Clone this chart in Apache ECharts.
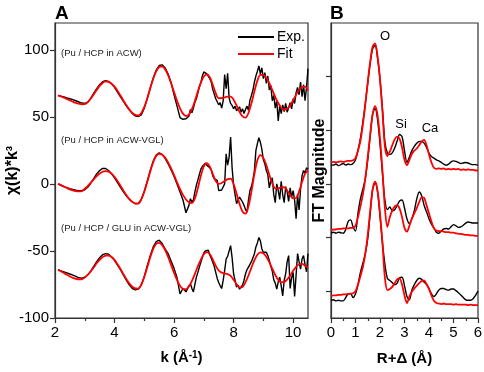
<!DOCTYPE html>
<html>
<head>
<meta charset="utf-8">
<script src="https://cdn.jsdelivr.net/npm/echarts@6/dist/echarts.min.js"></script>
<style>
  html, body { margin: 0; padding: 0; background: #fff; }
  #chart { width: 484px; height: 372px; }
</style>
</head>
<body>
<div id="chart"></div>
<script>
// sampling grids (k in 1/A, R in A)
var fitK = [];
for (var i = 21; i <= 105; i++) fitK.push(i / 10);
var expK = [];
for (var i = 21; i <= 65; i++) expK.push(i / 10);
for (var j = 131; j <= 210; j++) expK.push(j / 20);
var rB = [];
for (var i = 0; i <= 60; i++) rB.push(i / 10);

// panel A: chi(k)*k^3
var expACW = [66, 65.4, 64.8, 64.1, 63.5, 62.8, 62.0, 61.1, 60.3,
  60.0, 61.0, 63.8, 67.5, 71.0, 74.0, 76.2, 77.0, 76.5, 74.6,
  72.0, 68.5, 64.9, 61.5, 58.0, 55.0, 52.4, 50.6, 50.3, 51.5,
  56.5, 63.5, 71.5, 79.0, 84.8, 88.3, 88.8, 86.5, 82.0, 75.5,
  66.5, 58.0, 49.5, 48.2, 48.6, 50.5,
  55.5, 53.0, 56.5, 61.0, 63.5, 68.0, 72.5, 75.5, 80.5,
  83.5, 84.5, 82.0, 83.0, 78.5, 76.0, 70.5, 67.0, 63.5, 64.5, 59.0, 60.5, 56.5, 62.0, 81.5, 71.0, 82.5, 64.0, 60.0, 58.5,
  56.0, 58.0, 54.5, 55.5, 57.5, 53.5, 56.0, 52.5, 55.5, 58.0, 55.0, 62.5, 66.0, 70.0, 76.0, 80.5, 84.0, 88.0, 82.0, 86.5,
  78.5, 83.0, 75.0, 80.5, 70.0, 73.5, 62.0, 66.0, 56.5, 62.0, 47.0, 58.5, 52.5, 59.0, 54.0, 60.0, 53.5, 57.0, 60.5, 56.0,
  63.5, 60.0, 68.0, 72.0, 66.5, 76.0, 65.0, 74.0, 62.0, 72.0, 86.0];
var fitACW = [66, 65.2, 64.3, 63.3, 62.3, 61.3, 60.4, 59.8, 59.4,
  59.5, 61.0, 63.5, 66.7, 70.0, 73.1, 75.3, 76.4, 76.1, 74.8,
  72.5, 69.5, 65.9, 62.2, 58.6, 55.4, 52.9, 51.5, 51.0, 52.8,
  57.4, 63.9, 71.3, 78.4, 83.9, 87.2, 87.6, 85.4, 81.1, 75.2,
  68.5, 61.9, 56.4, 52.4, 50.6, 51.7, 55.7, 61.9, 69.0, 75.5,
  80.1, 81.7, 79.5, 73.9, 67.7, 63.9, 64.0, 64.6, 65.1, 65.1,
  62.8, 58.5, 53.8, 50.3, 49.4, 52.9, 60.2, 69.1, 77.0, 81.3,
  81.3, 79.1, 75.1, 70.1, 64.8, 60.3, 56.9, 55.3, 56.0, 58.5,
  62.3, 66.5, 70.2, 72.3, 72.6, 69.7];

var expVGL = [0, -1.0, -2.0, -2.8, -3.5, -4.1, -4.6, -5.0, -5.0,
  -4.4, -2.5, 0.5, 4.0, 7.5, 10.0, 11.6, 11.5, 10.0, 7.5,
  4.5, 1.0, -2.5, -6.0, -9.0, -11.5, -13.5, -14.8, -14.5, -11.5,
  -5.5, 2.0, 10.0, 17.0, 21.5, 23.2, 22.0, 19.0, 15.0, 10.5,
  5.5, 0.0, -6.0, -12.0, -21.5, -16.0,
  -11.0, -13.5, -12.0, -6.0, -1.0, 3.0, 7.0, 11.0, 13.0,
  14.0, 15.5, 14.0, 15.0, 12.0, 10.5, 6.0, 4.0, 3.0, 2.6, -5.0, -6.0, -4.5, -3.5, 0.0, 22.5, 14.0, 20.0, 35.0, 12.0,
  -1.0, -8.0, -14.8, -12.0, -9.8, -11.0, -13.5, -16.0, -19.0, -21.0, -12.0, -5.0, -2.0, 3.0, 10.0, 25.0, 30.0, 34.4, 31.0, 26.0,
  18.0, 15.0, 10.0, 7.0, -3.0, 2.0, 4.5, -8.0, -14.0, 0.0, -5.0, -11.5, 2.0, -8.0, -14.0, -2.0, -6.0, -13.0, -3.0, -10.0,
  -5.0, -12.0, -26.0, -8.0, -19.5, -4.0, 6.0, 10.0, 8.0, 12.0, 11.0];
var fitVGL = [0, -0.9, -2.0, -3.1, -4.1, -4.9, -5.4, -5.6, -5.4,
  -3.6, -1.6, 0.9, 3.4, 5.8, 7.7, 9.1, 9.6, 9.2, 7.7,
  5.3, 2.2, -1.3, -5.0, -8.4, -11.3, -13.4, -14.6, -14.7, -11.6,
  -5.9, 1.5, 9.3, 16.2, 20.9, 22.5, 21.7, 19.6, 16.0, 11.5,
  6.5, 1.2, -3.9, -8.2, -11.6, -13.7, -14.3, -10.9, -3.1, 6.1,
  13.1, 15.5, 12.9, 7.5, 2.1, 0, 0.7, 2.2, 3.6, 3.9,
  -0.1, -7.2, -14.9, -20.6, -22.2, -16.7, -5.6, 7.4, 17.7, 21.5,
  19.4, 14.0, 6.8, 0.3, -3.3, -3.3, -2.6, -2.5, -4.9, -8.2,
  -10.7, -10.4, -5.7, 1.4, 7.5, 10];

var expGLU = [-64, -64.8, -65.6, -66.4, -67.2, -68.0, -69.0, -70.0, -70.3,
  -69.6, -67.8, -65.0, -61.5, -58.0, -55.0, -52.8, -52.0, -52.5, -54.5,
  -57.0, -60.5, -64.0, -68.0, -72.0, -75.5, -78.0, -79.0, -78.5, -75.5,
  -69.0, -61.0, -53.5, -47.0, -43.0, -42.0, -44.5, -48.5, -52.0, -57.5,
  -63.0, -70.0, -82.0, -78.0, -80.5, -76.0,
  -74.5, -78.0, -80.5, -75.0, -69.5, -66.0, -62.0, -58.5, -55.0,
  -51.5, -50.0, -50.5, -49.5, -53.0, -55.5, -58.5, -61.5, -66.0, -70.5, -73.5, -76.0, -78.0, -72.0, -64.5, -56.0, -54.0, -53.0, -46.0, -55.0,
  -67.0, -72.0, -77.0, -75.5, -78.5, -77.0, -75.5, -72.0, -67.0, -64.0, -62.0, -61.5, -58.0, -57.0, -52.0, -47.0, -44.0, -40.0, -42.5, -48.5,
  -51.0, -52.0, -51.0, -53.5, -57.0, -61.5, -65.0, -71.5, -74.0, -78.5, -73.0, -69.5, -76.0, -83.5, -72.0, -67.0, -58.0, -53.5, -78.0, -70.0,
  -66.0, -84.0, -68.0, -52.0, -58.0, -63.5, -56.0, -53.5, -60.0, -65.5, -52.0];
var fitGLU = [-64, -65.2, -66.5, -67.8, -69, -70.1, -70.8, -71.2, -71.1,
  -69.9, -67.9, -65.3, -62.3, -59.2, -56.7, -54.6, -53.5, -53.4, -54.5,
  -56.6, -59.9, -63.4, -67.3, -71.1, -74.3, -76.7, -78.0, -78.1, -75.0,
  -69.4, -62.2, -54.7, -48.4, -44.7, -44.0, -45.7, -49.3, -54.4, -60.4,
  -66.4, -71.7, -75.9, -78.3, -78.6, -76.5, -72.3, -67.1, -61.3, -56.4,
  -52.5, -50.9, -52.3, -56.3, -61, -64.6, -66.2, -66.8, -67.3, -68.6,
  -71.5, -74.8, -77.1, -76.8, -73.3, -68.3, -62.4, -56.9, -52.8, -51.0,
  -51.7, -54.3, -58.4, -63.2, -67.9, -71.5, -73.3, -73.2, -71.3, -68.3,
  -64.8, -61.8, -59.9, -59.7, -61, -62.5];

// panel B: FT magnitude (offset curves, arbitrary units)
var ftExpACW = [2.36, 2.35, 2.37, 2.34, 2.36, 2.38, 2.35, 2.37, 2.36, 2.38,
  2.45, 2.62, 2.85, 3.15, 3.5, 3.88, 4.25, 4.52, 4.58, 4.35,
  3.95, 3.4, 2.78, 2.58, 2.55, 2.58, 2.67, 2.8, 2.92, 2.88,
  2.62, 2.4, 2.5, 2.62, 2.7, 2.76, 2.79, 2.79, 2.76, 2.68,
  2.57, 2.51, 2.48, 2.45, 2.43, 2.4, 2.37, 2.35, 2.37, 2.41,
  2.43, 2.42, 2.4, 2.38, 2.39, 2.4, 2.39, 2.37, 2.36, 2.36, 2.35];
var ftFitACW = [2.4, 2.41, 2.4, 2.41, 2.42, 2.41, 2.42, 2.43, 2.43, 2.44,
  2.48, 2.62, 2.8, 3.1, 3.48, 3.9, 4.28, 4.56, 4.62, 4.38,
  3.95, 3.35, 2.7, 2.52, 2.6, 2.72, 2.83, 2.88, 2.84, 2.68,
  2.45, 2.35, 2.45, 2.56, 2.62, 2.66, 2.72, 2.79, 2.82, 2.72,
  2.55, 2.4, 2.3, 2.28, 2.29, 2.28, 2.29, 2.27, 2.28, 2.27,
  2.28, 2.27, 2.28, 2.26, 2.27, 2.26, 2.27, 2.26, 2.26, 2.25, 2.25];
var ftExpVGL = [1.08, 1.1, 1.08, 1.1, 1.09, 1.08, 1.15, 1.3, 1.33, 1.2,
  1.12, 1.45, 1.72, 1.9, 2.1, 2.45, 2.9, 3.3, 3.41, 3.2,
  2.75, 2.2, 1.7, 1.52, 1.57, 1.5, 1.52, 1.6, 1.68, 1.7,
  1.55, 1.35, 1.26, 1.35, 1.5, 1.72, 1.85, 1.78, 1.6, 1.48,
  1.35, 1.25, 1.18, 1.1, 1.08, 1.12, 1.16, 1.17, 1.16, 1.2,
  1.24, 1.22, 1.19, 1.2, 1.23, 1.27, 1.29, 1.28, 1.27, 1.27, 1.27];
var ftFitVGL = [1.14, 1.15, 1.15, 1.16, 1.16, 1.17, 1.17, 1.17, 1.18, 1.18,
  1.22, 1.38, 1.58, 1.8, 2.1, 2.5, 2.92, 3.3, 3.45, 3.28,
  2.85, 2.25, 1.55, 1.2, 1.38, 1.5, 1.58, 1.6, 1.54, 1.38,
  1.18, 1.11, 1.22, 1.35, 1.45, 1.55, 1.66, 1.75, 1.74, 1.6,
  1.45, 1.3, 1.17, 1.13, 1.12, 1.12, 1.11, 1.1, 1.1, 1.09,
  1.09, 1.08, 1.07, 1.07, 1.06, 1.05, 1.05, 1.04, 1.04, 1.03, 1.03];
var ftExpGLU = [-0.17, -0.16, -0.18, -0.17, -0.18, -0.18, -0.12, -0.05, -0.04, -0.12,
  -0.05, 0.12, 0.35, 0.52, 0.7, 0.98, 1.45, 1.9, 2.02, 1.85,
  1.4, 0.9, 0.5, 0.24, 0.2, 0.16, 0.12, 0.15, 0.25, 0.26,
  0.1, -0.1, -0.16, 0.02, 0.12, 0.2, 0.24, 0.22, 0.17, 0.13,
  0.05, -0.05, -0.1, -0.05, 0.02, 0.05, 0.05, 0.03, 0.02, 0.04,
  0.04, 0.01, -0.03, -0.07, -0.12, -0.16, -0.17, -0.17, -0.14, -0.08, 0.0];
var ftFitGLU = [-0.09, -0.08, -0.08, -0.07, -0.07, -0.06, -0.06, -0.05, -0.05, -0.04,
  0.0, 0.12, 0.28, 0.45, 0.7, 1.05, 1.5, 1.9, 2.04, 1.88,
  1.45, 0.9, 0.25, 0.02, 0.04, 0.08, 0.15, 0.22, 0.24, 0.12,
  -0.08, -0.22, -0.1, -0.01, 0.05, 0.1, 0.15, 0.19, 0.2, 0.13,
  0.04, -0.08, -0.18, -0.22, -0.23, -0.24, -0.23, -0.24, -0.24, -0.24,
  -0.25, -0.24, -0.25, -0.25, -0.25, -0.25, -0.26, -0.25, -0.26, -0.26, -0.26];

var kTicks = [2, 4, 6, 8, 10];
var chiTicks = [-100, -50, 0, 50, 100];
var ftTicks = [0, 1, 2, 3, 4];
var sampleNames = ['(Pu / HCP in ACW)', '(Pu / HCP in ACW-VGL)', '(Pu / HCP / GLU in ACW-VGL)'];
var peakNames = ['O', 'Si', 'Ca'];

var FONT = '"Liberation Sans", Arial, sans-serif';
var EXP_COLOR = '#000000';
var FIT_COLOR = '#ff0000';

function pairs(xs, ys) {
  return xs.map(function(x, i) { return [x, ys[i]]; });
}

function lineSeries(name, xi, yi, xs, ys, color, width, smooth) {
  return {
    name: name,
    type: 'line',
    xAxisIndex: xi,
    yAxisIndex: yi,
    data: pairs(xs, ys),
    showSymbol: false,
    smooth: smooth,
    silent: true,
    clip: true,
    itemStyle: { color: color },
    lineStyle: { color: color, width: width }
  };
}

var lineStyle = { color: '#333', width: 1.2 };

var option = {
  animation: false,
  backgroundColor: '#fff',
  textStyle: { fontFamily: FONT },
  grid: [
    { left: 55, top: 23, width: 253, height: 295, show: true, borderColor: '#333', borderWidth: 1.2, outerBoundsMode: 'none', containLabel: false },
    { left: 331, top: 23, width: 147, height: 295, show: true, borderColor: '#333', borderWidth: 1.2, outerBoundsMode: 'none', containLabel: false }
  ],
  legend: {
    data: ['Exp.', 'Fit'],
    orient: 'vertical',
    left: 233,
    top: 25,
    icon: 'rect',
    itemWidth: 36,
    itemHeight: 2,
    itemGap: 3,
    textStyle: { fontSize: 14, color: '#000', fontFamily: FONT, padding: [0, 0, 0, -2] }
  },
  xAxis: [
    {
      type: 'value', gridIndex: 0, min: 2, max: 10.5,
      splitLine: { show: false },
      axisLine: { onZero: false, lineStyle: lineStyle },
      axisTick: { show: true, length: 5, customValues: kTicks, lineStyle: lineStyle },
      minorTick: { show: true, splitNumber: 2, length: 3, lineStyle: lineStyle },
      axisLabel: { customValues: kTicks, fontSize: 15, color: '#000', margin: 7, fontFamily: FONT },
      name: '{a|k (Å}{s|-1}{a|)}',
      nameLocation: 'middle',
      nameGap: 32,
      nameMoveOverlap: false,
      nameTextStyle: {
        rich: {
          a: { fontSize: 15, fontWeight: 'bold', color: '#000', fontFamily: FONT },
          s: { fontSize: 10, fontWeight: 'bold', color: '#000', fontFamily: FONT, verticalAlign: 'top', lineHeight: 12 }
        }
      }
    },
    {
      type: 'value', gridIndex: 1, min: 0, max: 6, interval: 1,
      splitLine: { show: false },
      axisLine: { onZero: false, lineStyle: lineStyle },
      axisTick: { show: true, length: 5, lineStyle: lineStyle },
      minorTick: { show: true, splitNumber: 2, length: 3, lineStyle: lineStyle },
      axisLabel: { fontSize: 15, color: '#000', margin: 7, fontFamily: FONT },
      name: 'R+Δ (Å)',
      nameLocation: 'middle',
      nameGap: 33,
      nameMoveOverlap: false,
      nameTextStyle: { fontSize: 15, fontWeight: 'bold', color: '#000', fontFamily: FONT }
    }
  ],
  yAxis: [
    {
      type: 'value', gridIndex: 0, min: -100, max: 120,
      splitLine: { show: false },
      axisLine: { onZero: false, lineStyle: lineStyle },
      axisTick: { show: true, length: 5, customValues: chiTicks, lineStyle: lineStyle },
      minorTick: { show: false },
      axisLabel: { customValues: chiTicks, fontSize: 15, color: '#000', margin: 6, fontFamily: FONT },
      name: 'χ(k)*k³',
      nameLocation: 'middle',
      nameRotate: 90,
      nameGap: 34,
      nameMoveOverlap: false,
      nameTextStyle: { fontSize: 16, fontWeight: 'bold', color: '#000', fontFamily: FONT }
    },
    {
      type: 'value', gridIndex: 1, min: -0.5, max: 5,
      splitLine: { show: false },
      axisLine: { onZero: false, lineStyle: lineStyle },
      axisTick: { show: true, length: 5, customValues: ftTicks, lineStyle: lineStyle },
      axisLabel: { show: false },
      name: 'FT Magnitude',
      nameLocation: 'middle',
      nameRotate: 90,
      nameGap: 3,
      nameMoveOverlap: false,
      nameTextStyle: { fontSize: 16, fontWeight: 'bold', color: '#000', fontFamily: FONT }
    }
  ],
  graphic: [
    { type: 'text', left: 55, top: 4, style: { text: 'A', font: 'bold 19px ' + FONT, fill: '#000' } },
    { type: 'text', left: 330, top: 4, style: { text: 'B', font: 'bold 19px ' + FONT, fill: '#000' } },
    { type: 'text', x: 61, y: 53, style: { text: sampleNames[0], font: '9.5px ' + FONT, fill: '#222', textVerticalAlign: 'middle' } },
    { type: 'text', x: 61, y: 140, style: { text: sampleNames[1], font: '9.5px ' + FONT, fill: '#222', textVerticalAlign: 'middle' } },
    { type: 'text', x: 61, y: 228, style: { text: sampleNames[2], font: '9.5px ' + FONT, fill: '#222', textVerticalAlign: 'middle' } },
    { type: 'text', x: 385, y: 36, style: { text: peakNames[0], font: '13px ' + FONT, fill: '#000', textAlign: 'center', textVerticalAlign: 'middle' } },
    { type: 'text', x: 401, y: 124, style: { text: peakNames[1], font: '13px ' + FONT, fill: '#000', textAlign: 'center', textVerticalAlign: 'middle' } },
    { type: 'text', x: 430, y: 128, style: { text: peakNames[2], font: '13px ' + FONT, fill: '#000', textAlign: 'center', textVerticalAlign: 'middle' } }
  ],
  series: [
    lineSeries('Exp.', 0, 0, expK, expACW, EXP_COLOR, 1.4, false),
    lineSeries('Exp.', 0, 0, expK, expVGL, EXP_COLOR, 1.4, false),
    lineSeries('Exp.', 0, 0, expK, expGLU, EXP_COLOR, 1.4, false),
    lineSeries('Fit', 0, 0, fitK, fitACW, FIT_COLOR, 1.8, 0.3),
    lineSeries('Fit', 0, 0, fitK, fitVGL, FIT_COLOR, 1.8, 0.3),
    lineSeries('Fit', 0, 0, fitK, fitGLU, FIT_COLOR, 1.8, 0.3),
    lineSeries('Exp.', 1, 1, rB, ftExpACW, EXP_COLOR, 1.4, 0.3),
    lineSeries('Exp.', 1, 1, rB, ftExpVGL, EXP_COLOR, 1.4, 0.3),
    lineSeries('Exp.', 1, 1, rB, ftExpGLU, EXP_COLOR, 1.4, 0.3),
    lineSeries('Fit', 1, 1, rB, ftFitACW, FIT_COLOR, 1.8, 0.3),
    lineSeries('Fit', 1, 1, rB, ftFitVGL, FIT_COLOR, 1.8, 0.3),
    lineSeries('Fit', 1, 1, rB, ftFitGLU, FIT_COLOR, 1.8, 0.3)
  ]
};

var chart = echarts.init(document.getElementById('chart'), null, { renderer: 'canvas' });
chart.setOption(option);
</script>
</body>
</html>
